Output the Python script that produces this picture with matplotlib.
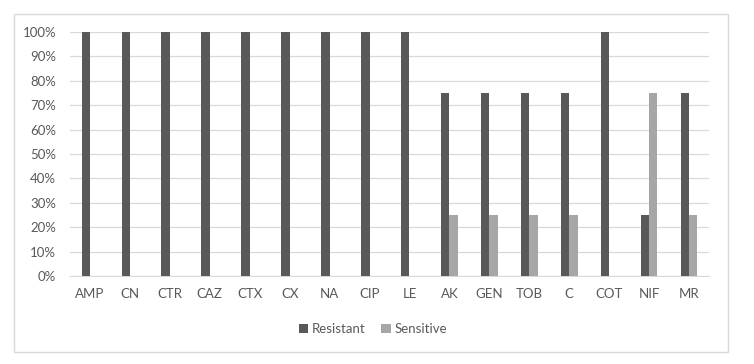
import matplotlib.pyplot as plt
import matplotlib.patches as patches
import numpy as np

categorias = ["AMP", "CN", "CTR", "CAZ", "CTX", "CX", "NA", "CIP", "LE",
              "AK", "GEN", "TOB", "C", "COT", "NIF", "MR"]
resistente = [100, 100, 100, 100, 100, 100, 100, 100, 100,
              75, 75, 75, 75, 100, 25, 75]
sensivel = [0, 0, 0, 0, 0, 0, 0, 0, 0,
            25, 25, 25, 25, 0, 75, 25]
y_ticks = [0, 10, 20, 30, 40, 50, 60, 70, 80, 90, 100]

plt.rcParams['font.family'] = ['Lato', 'DejaVu Sans']

fig = plt.figure(figsize=(7.54, 3.64), dpi=100)
ax = fig.add_axes([70 / 754, 1 - 276 / 364, 639 / 754, 244 / 364])

x = np.arange(len(categorias))
w = 0.21
ax.bar(x - w / 2, resistente, w, color="#595959", label="Resistant", zorder=3)
ax.bar(x + w / 2, sensivel, w, color="#a6a6a6", label="Sensitive", zorder=3)

ax.set_xlim(-0.5, len(categorias) - 0.5)
ax.set_ylim(0, 100)
ax.set_yticks(y_ticks)
ax.set_yticklabels([f"{v}%" for v in y_ticks])
ax.set_xticks(x)
ax.set_xticklabels(categorias)
ax.tick_params(axis="both", length=0, labelsize=9.5, colors="#595959")
ax.tick_params(axis="x", pad=9)
ax.tick_params(axis="y", pad=10)
ax.grid(axis="y", color="#d9d9d9", linewidth=0.9, zorder=0)
for s in ["top", "right", "left"]:
    ax.spines[s].set_visible(False)
ax.spines["bottom"].set_color("#d9d9d9")

fig.legend(loc="center", bbox_to_anchor=(373 / 754, 1 - 329 / 364), ncol=2,
           frameon=False, fontsize=9.5, labelcolor="#595959",
           handlelength=0.7, handleheight=0.7, handletextpad=0.3, columnspacing=1.2)

borda = patches.Rectangle((14 / 754, 1 - 352 / 364), 714 / 754, 338 / 364,
                          transform=fig.transFigure, fill=False,
                          edgecolor="#d9d9d9", linewidth=1)
fig.patches.append(borda)

fig.savefig("out.png", dpi=100)
